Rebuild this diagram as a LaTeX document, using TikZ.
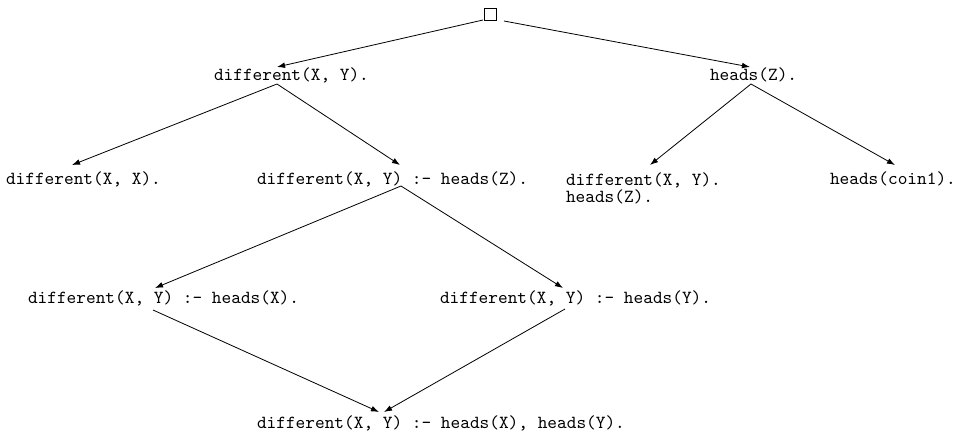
\documentclass[tikz,border=0pt]{standalone}
\usetikzlibrary{calc,arrows.meta}
\begin{document}
\begin{tikzpicture}[x=0.5585pt,y=-0.5585pt,
  lbl/.style={font=\ttfamily\fontsize{10.3}{12.3}\selectfont, inner sep=0pt, outer sep=0pt, anchor=base west},
  edge/.style={line width=0.45pt, -{Latex[length=4.5pt,width=3.2pt]}},
  rootbox/.style={draw, line width=0.45pt, minimum size=6.7pt, inner sep=0pt}]
\useasboundingbox (0,0) rectangle (958,438);
\node[rootbox] (root) at (490,14) {};
\node[lbl] (n1) at (214,80) {different(X, Y).};
\node[lbl] (n2) at (710,80) {heads(Z).};
\node[lbl] (n3) at (6,184) {different(X, X).};
\node[lbl] (n4) at (257,184) {different(X, Y) :- heads(Z).};
\node[lbl] (n5) at (566,185) {\begin{tabular}[t]{@{}l@{}}different(X, Y).\\[-2.3pt]heads(Z).\end{tabular}};
\node[lbl] (n6) at (830,184) {heads(coin1).};
\node[lbl] (n7) at (28,303) {different(X, Y) :- heads(X).};
\node[lbl] (n8) at (440,303) {different(X, Y) :- heads(Y).};
\node[lbl] (n9) at (257,428) {different(X, Y) :- heads(X), heads(Y).};
\draw[edge] ($(root.center)+(-7,6)$) -- ($(n1.base west)+(63,-13)$);
\draw[edge] ($(root.center)+(14,7)$) -- ($(n2.base west)+(40,-13)$);
\draw[edge] ($(n1.base west)+(63,4)$) -- ($(n3.base west)+(66,-19)$);
\draw[edge] ($(n1.base west)+(63,4)$) -- ($(n4.base west)+(143,-19)$);
\draw[edge] ($(n2.base west)+(41,4)$) -- ($(n5.base west)+(84,-20)$);
\draw[edge] ($(n2.base west)+(41,4)$) -- ($(n6.base west)+(65,-19)$);
\draw[edge] ($(n4.base west)+(144,2)$) -- ($(n7.base west)+(127,-15)$);
\draw[edge] ($(n4.base west)+(144,2)$) -- ($(n8.base west)+(123,-15)$);
\draw[edge] ($(n7.base west)+(125,7)$) -- ($(n9.base west)+(122,-16)$);
\draw[edge] ($(n8.base west)+(125,6)$) -- ($(n9.base west)+(127,-16)$);
\end{tikzpicture}
\end{document}
